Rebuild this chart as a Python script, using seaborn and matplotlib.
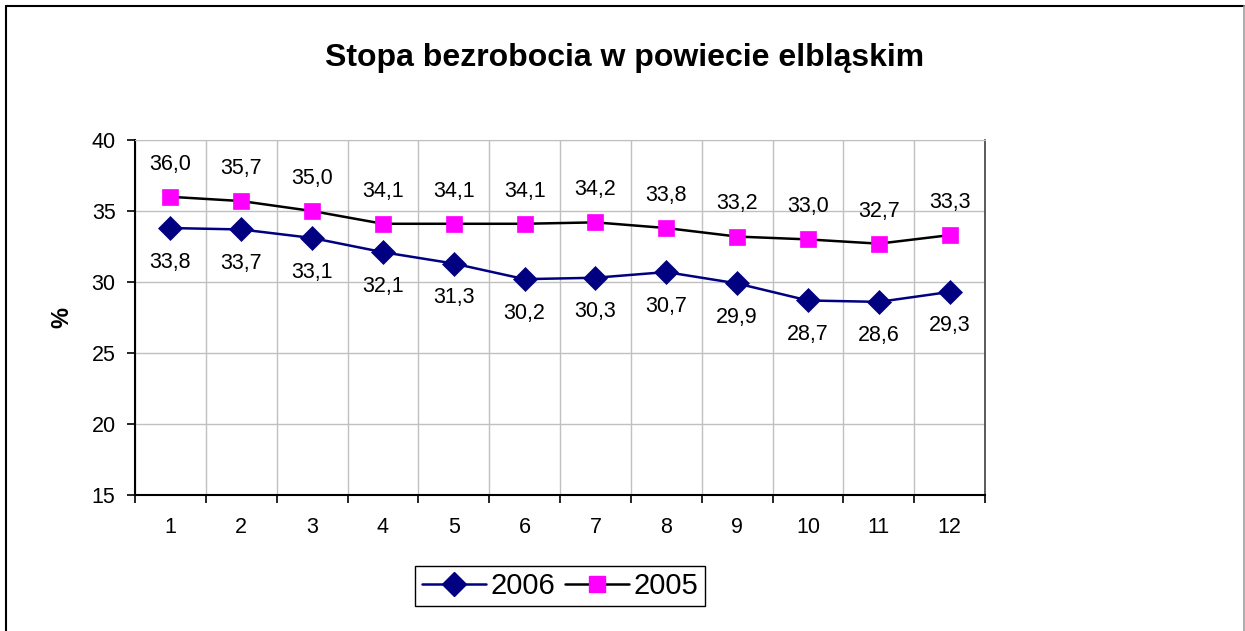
import matplotlib
matplotlib.use("Agg")
import matplotlib.pyplot as plt
import numpy as np
import pandas as pd
import seaborn as sns
from matplotlib.lines import Line2D

# Dane: stopa bezrobocia (%) w kolejnych miesiącach
MONTHS = list(range(1, 13))
RATE_2006 = [33.8, 33.7, 33.1, 32.1, 31.3, 30.2, 30.3, 30.7, 29.9, 28.7, 28.6, 29.3]
RATE_2005 = [36.0, 35.7, 35.0, 34.1, 34.1, 34.1, 34.2, 33.8, 33.2, 33.0, 32.7, 33.3]
Y_TICKS = [15, 20, 25, 30, 35, 40]

TITLE = "Stopa bezrobocia w powiecie elbląskim"
NAVY = "#000080"
MAGENTA = "#FF00FF"
GRID_COLOR = "#c0c0c0"


def fmt(v):
    return f"{v:.1f}".replace(".", ",")


sns.set_style("white")
plt.rcParams["font.family"] = ["Liberation Sans", "DejaVu Sans"]
plt.rcParams["text.color"] = "black"
plt.rcParams["axes.labelcolor"] = "black"
plt.rcParams["xtick.color"] = "black"
plt.rcParams["ytick.color"] = "black"

df = pd.DataFrame({
    "month": MONTHS * 2,
    "rate": RATE_2006 + RATE_2005,
    "year": ["2006"] * 12 + ["2005"] * 12,
})

fig = plt.figure(figsize=(12.45, 6.31), dpi=100)
ax = fig.add_axes([135 / 1245, 1 - 495 / 631, 850 / 1245, 355 / 631])

sns.lineplot(data=df[df["year"] == "2006"], x="month", y="rate", ax=ax,
             color=NAVY, linewidth=1.8, marker="D", markersize=12,
             markerfacecolor=NAVY, markeredgecolor=NAVY, markeredgewidth=0.5,
             label="2006")
sns.lineplot(data=df[df["year"] == "2005"], x="month", y="rate", ax=ax,
             color="black", linewidth=1.8, marker="s", markersize=11,
             markerfacecolor=MAGENTA, markeredgecolor=MAGENTA, markeredgewidth=0.5,
             label="2005")

# etykiety wartości
for m, v in zip(MONTHS, RATE_2005):
    ax.annotate(fmt(v), (m, v), xytext=(0, 23.5), textcoords="offset points",
                ha="center", va="center", fontsize=15.5)
for m, v in zip(MONTHS, RATE_2006):
    ax.annotate(fmt(v), (m, v), xytext=(0, -24.5), textcoords="offset points",
                ha="center", va="center", fontsize=15.5)

ax.set_xlim(0.5, 12.5)
ax.set_ylim(15, 40)
ax.set_yticks(Y_TICKS)
ax.set_yticklabels([str(t) for t in Y_TICKS], fontsize=15.5)

# siatka pionowa na granicach kategorii, etykiety w środku
ax.set_xticks(np.arange(0.5, 13, 1))
ax.set_xticklabels([])
ax.set_xticks(MONTHS, minor=True)
ax.set_xticklabels([str(m) for m in MONTHS], minor=True, fontsize=15.5)
ax.tick_params(axis="x", which="minor", length=0, pad=16)
ax.tick_params(axis="x", which="major", direction="out", length=6, width=1.2,
               color="black", bottom=True)
ax.tick_params(axis="y", direction="out", length=6, width=1.2, color="black",
               left=True, pad=8)
ax.grid(True, which="major", color=GRID_COLOR, linewidth=1)

ax.set_xlabel("")
ax.set_ylabel("%", fontsize=17, fontweight="bold", labelpad=13)

for side in ("left", "bottom"):
    ax.spines[side].set_color("black")
    ax.spines[side].set_linewidth(1.5)
ax.spines["top"].set_color(GRID_COLOR)
ax.spines["right"].set_color("#404040")
ax.spines["right"].set_linewidth(1.2)

ax.get_legend().remove()
handles = [
    Line2D([], [], color=NAVY, linewidth=1.8, marker="D", markersize=12,
           markerfacecolor=NAVY, markeredgecolor=NAVY),
    Line2D([], [], color="black", linewidth=1.8, marker="s", markersize=11,
           markerfacecolor=MAGENTA, markeredgecolor=MAGENTA),
]
leg = fig.legend(handles, ["2006", "2005"], loc="center",
                 bbox_to_anchor=(560 / 1245, 1 - 586 / 631), ncol=2,
                 fontsize=21, frameon=True, fancybox=False, framealpha=1,
                 edgecolor="black", handlelength=2.2, handletextpad=0.15,
                 columnspacing=0.35, borderpad=0.22)
leg.get_frame().set_linewidth(1)

fig.text(625 / 1245, 1 - 58 / 631, TITLE, ha="center", va="center",
         fontsize=23, fontweight="bold")

# ramka wykresu
fig.add_artist(Line2D([6 / 1245, 6 / 1245], [0, 1 - 6 / 631], color="black",
                      linewidth=1.5, transform=fig.transFigure))
fig.add_artist(Line2D([6 / 1245, 1244 / 1245], [1 - 6 / 631, 1 - 6 / 631],
                      color="black", linewidth=1.5, transform=fig.transFigure))
fig.add_artist(Line2D([1244 / 1245, 1244 / 1245], [0, 1 - 6 / 631],
                      color="#a0a0a0", linewidth=1.2, transform=fig.transFigure))

fig.savefig("out.png", dpi=100)
plt.close(fig)
